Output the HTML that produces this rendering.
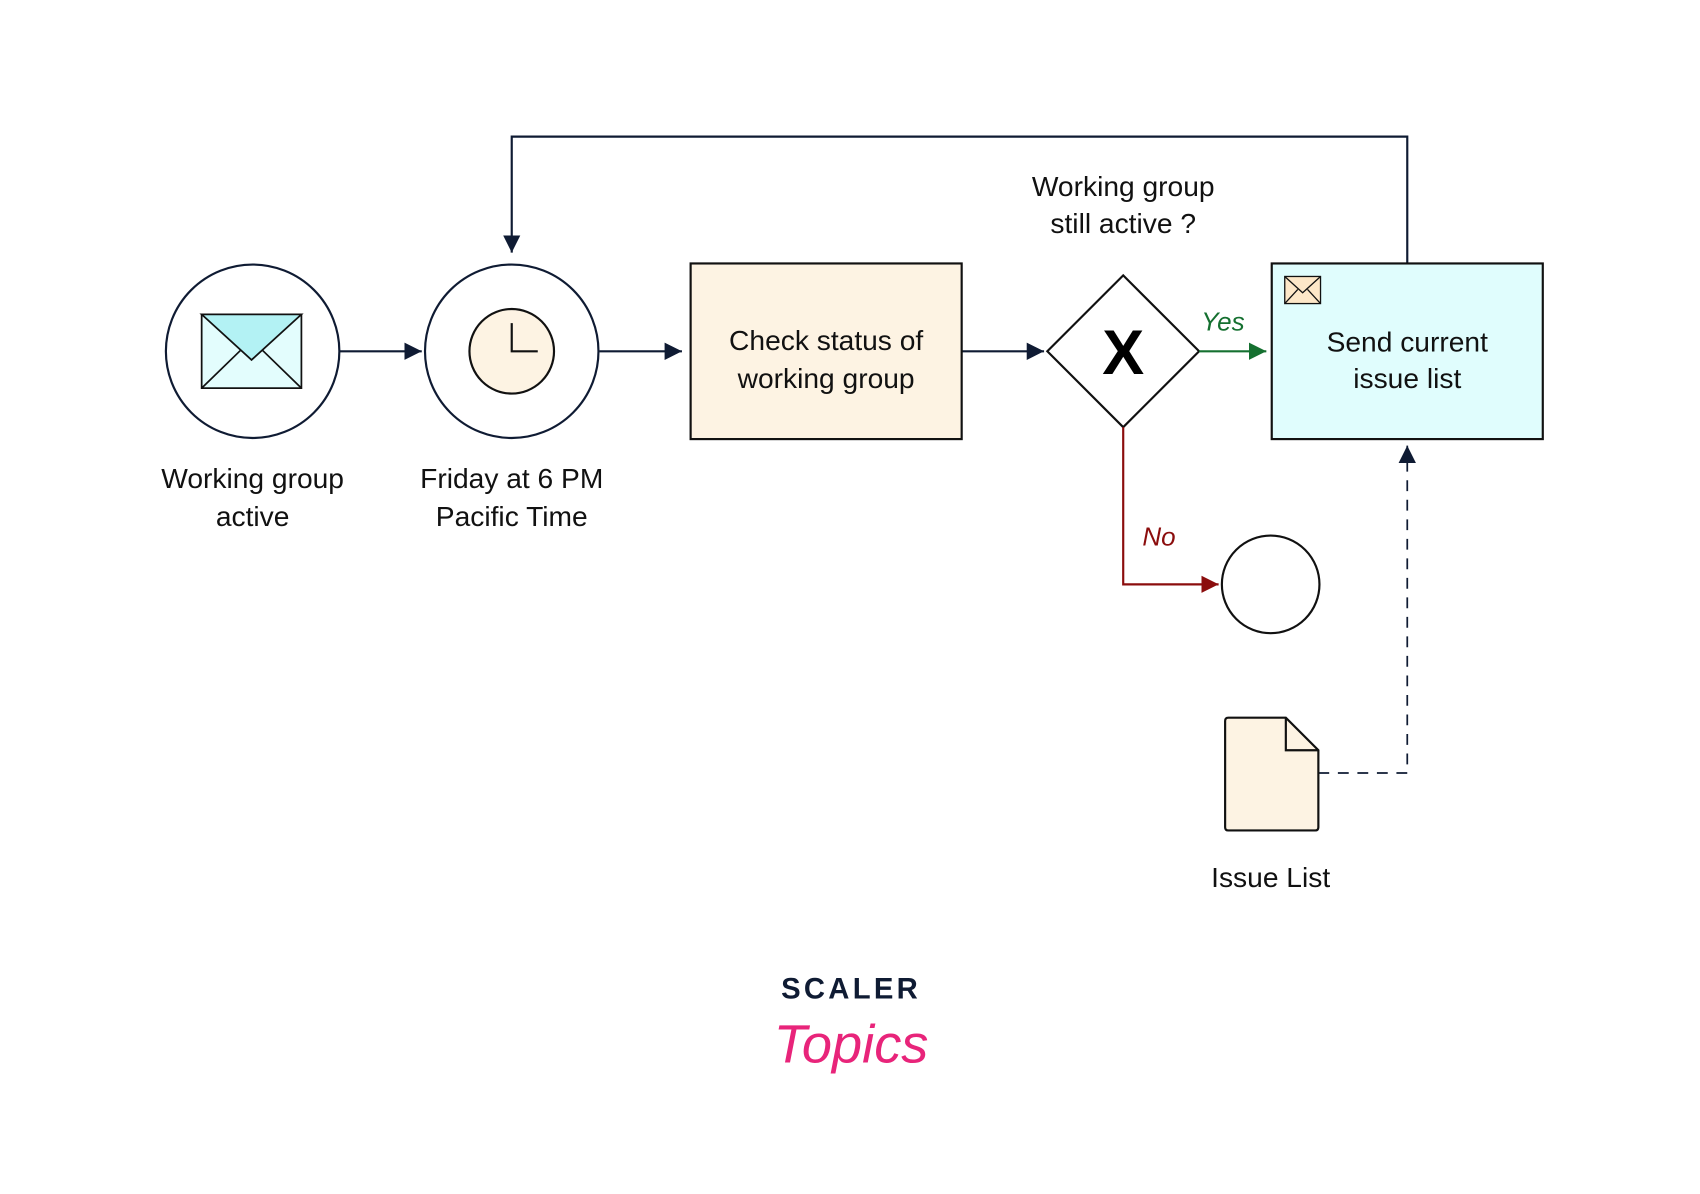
<!DOCTYPE html>
<html><head><meta charset="utf-8"><style>
html,body{margin:0;padding:0;background:#fff;}
svg{display:block;}
text{font-family:"Liberation Sans","DejaVu Sans",sans-serif;}
</style></head><body>
<svg width="1700" height="1194" viewBox="0 0 1568 1101.3" xmlns="http://www.w3.org/2000/svg">
<defs>
<marker id="a" viewBox="0 0 16 16" markerWidth="16" markerHeight="16" refX="16" refY="8" orient="auto" markerUnits="userSpaceOnUse"><path d="M0,0 L16,8 L0,16Z" fill="#0f1b33"/></marker>
<marker id="ag" viewBox="0 0 16 16" markerWidth="16" markerHeight="16" refX="16" refY="8" orient="auto" markerUnits="userSpaceOnUse"><path d="M0,0 L16,8 L0,16Z" fill="#157030"/></marker>
<marker id="ar" viewBox="0 0 16 16" markerWidth="16" markerHeight="16" refX="16" refY="8" orient="auto" markerUnits="userSpaceOnUse"><path d="M0,0 L16,8 L0,16Z" fill="#8b0d0d"/></marker>
</defs>
<g fill="none" stroke="#0f1b33" stroke-width="2">
<circle cx="233" cy="324" r="80" fill="#fff"/>
<circle cx="472" cy="324" r="80" fill="#fff"/>
<line x1="313" y1="324" x2="389" y2="324" marker-end="url(#a)"/>
<line x1="553" y1="324" x2="629" y2="324" marker-end="url(#a)"/>
<line x1="887" y1="324" x2="963" y2="324" marker-end="url(#a)"/>
<polyline points="1298,243 1298,126 472,126 472,233" marker-end="url(#a)"/>
<polyline points="1216,713 1298,713 1298,411" stroke-dasharray="10,8" stroke-width="1.6" marker-end="url(#a)"/>
</g>
<rect x="186" y="290" width="92" height="68" fill="#e3fdfd" stroke="#111" stroke-width="1.6"/>
<path d="M186,290 L232,332 L278,290Z" fill="#b3f2f4" stroke="#111" stroke-width="1.6"/>
<path d="M186,358 L222,323 M278,358 L242,323" stroke="#111" stroke-width="1.6"/>
<circle cx="472" cy="324" r="39" fill="#fdf3e3" stroke="#111" stroke-width="2"/>
<polyline points="472,298 472,324 496,324" fill="none" stroke="#111" stroke-width="2"/>
<rect x="637" y="243" width="250" height="162" fill="#fdf3e3" stroke="#111" stroke-width="2"/>
<text x="762" y="323" font-size="26" text-anchor="middle" fill="#111">Check status of</text>
<text x="762" y="358" font-size="26" text-anchor="middle" fill="#111">working group</text>
<path d="M1036,254 L1106,324 L1036,394 L966,324Z" fill="#fff" stroke="#111" stroke-width="2"/>
<text x="1036" y="345" font-size="58" font-weight="bold" text-anchor="middle" fill="#000">X</text>
<line x1="1106" y1="324" x2="1168" y2="324" stroke="#157030" stroke-width="2" marker-end="url(#ag)"/>
<text x="1128" y="305" font-size="24" font-style="italic" text-anchor="middle" fill="#157030">Yes</text>
<polyline points="1036,394 1036,539 1124,539" fill="none" stroke="#8b0d0d" stroke-width="2" marker-end="url(#ar)"/>
<text x="1069" y="503" font-size="24" font-style="italic" text-anchor="middle" fill="#8b0d0d">No</text>
<rect x="1173" y="243" width="250" height="162" fill="#e0fdfd" stroke="#111" stroke-width="2"/>
<rect x="1185" y="255" width="33" height="25" fill="#fde7c8" stroke="#111" stroke-width="1.2"/>
<path d="M1185,255 L1201.5,270 L1218,255 M1185,280 L1197,267 M1218,280 L1206,267" fill="none" stroke="#111" stroke-width="1.2"/>
<text x="1298" y="324" font-size="26" text-anchor="middle" fill="#111">Send current</text>
<text x="1298" y="358" font-size="26" text-anchor="middle" fill="#111">issue list</text>
<circle cx="1172" cy="539" r="45" fill="#fff" stroke="#111" stroke-width="2"/>
<path d="M1133,662 L1186,662 L1216,692 L1216,763 Q1216,766 1213,766 L1133,766 Q1130,766 1130,763 L1130,665 Q1130,662 1133,662Z" fill="#fdf3e3" stroke="#111" stroke-width="2"/>
<path d="M1186,662 L1186,692 L1216,692" fill="none" stroke="#111" stroke-width="2"/>
<g font-size="26" text-anchor="middle" fill="#111">
<text x="233" y="450">Working group</text>
<text x="233" y="485">active</text>
<text x="472" y="450">Friday at 6 PM</text>
<text x="472" y="485">Pacific Time</text>
<text x="1036" y="181">Working group</text>
<text x="1036" y="215">still active ?</text>
<text x="1172" y="818">Issue List</text>
</g>
<text x="785" y="921" font-size="27" font-weight="bold" letter-spacing="3" text-anchor="middle" fill="#0f1b33">SCALER</text>
<text x="785" y="980" font-size="50" font-style="italic" font-family="'Liberation Serif',serif" text-anchor="middle" fill="#e8247a">Topics</text>
</svg>
</body></html>
